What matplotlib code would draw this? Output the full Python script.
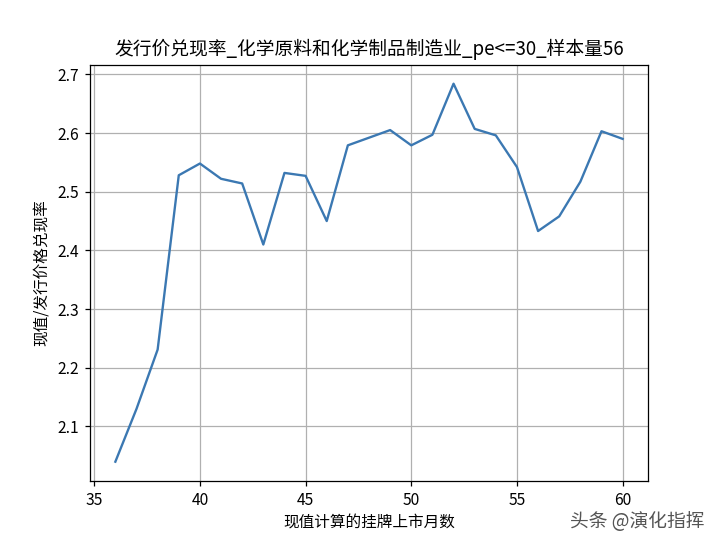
import matplotlib
matplotlib.use('Agg')
import matplotlib.pyplot as plt

plt.rcParams['font.family'] = ['Noto Sans CJK SC', 'DejaVu Sans']
plt.rcParams['axes.unicode_minus'] = False

months = list(range(36, 61))
ratio = [2.040, 2.130, 2.231, 2.528, 2.548, 2.522, 2.514, 2.410, 2.532, 2.527,
         2.450, 2.579, 2.592, 2.605, 2.579, 2.597, 2.684, 2.607, 2.596, 2.542,
         2.433, 2.458, 2.517, 2.603, 2.590]

fig = plt.figure(figsize=(6.4, 4.8), dpi=112.5)
ax = fig.add_subplot(111)
ax.plot(months, ratio, color='#3b78b2')
ax.grid(True)
ax.set_title('发行价兑现率_化学原料和化学制品制造业_pe<=30_样本量56')
ax.set_xlabel('现值计算的挂牌上市月数')
ax.set_ylabel('现值/发行价格兑现率')
fig.text(0.792, 0.024, '头条 @演化指挥', fontsize=12, color='#555555')
fig.savefig('out.png', dpi=112.5)
